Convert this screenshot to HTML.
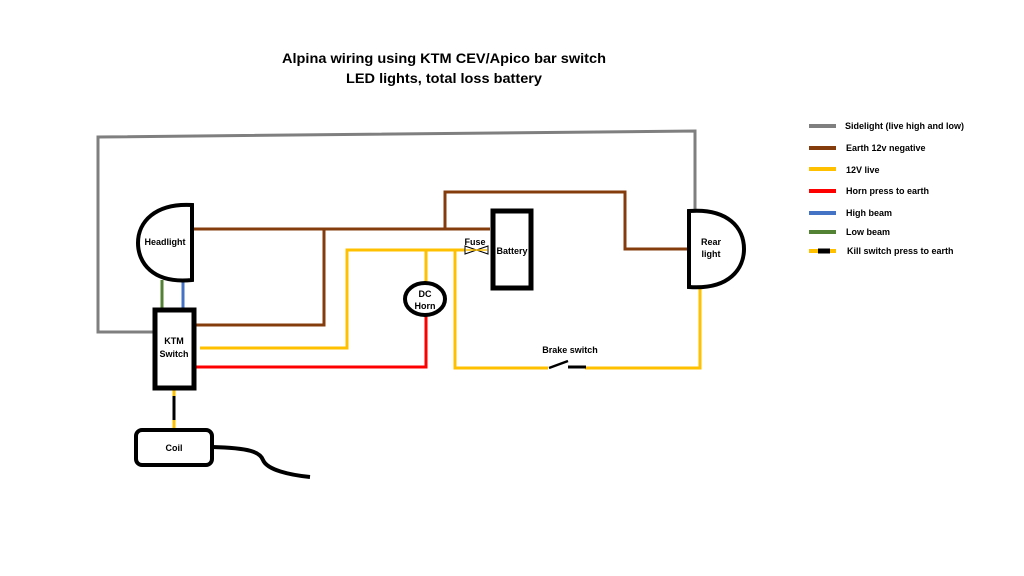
<!DOCTYPE html>
<html><head><meta charset="utf-8"><style>
html,body{margin:0;padding:0;background:#fff;}
svg{display:block;}
text{font-family:"Liberation Sans",sans-serif;font-weight:bold;fill:#000;}
</style></head><body>
<svg width="1024" height="576" viewBox="0 0 1024 576" xmlns="http://www.w3.org/2000/svg">
<rect width="1024" height="576" fill="#fff"/>
<text x="444" y="63" font-size="14" text-anchor="middle" textLength="324" lengthAdjust="spacingAndGlyphs">Alpina wiring using KTM CEV/Apico bar switch</text>
<text x="444" y="83" font-size="14" text-anchor="middle" textLength="196" lengthAdjust="spacingAndGlyphs">LED lights, total loss battery</text>
<g fill="none" stroke-width="3">
<polyline points="155,332 98,332 98,137 695,131 695,212" stroke="#7f7f7f"/>
<polyline points="192,229 490,229" stroke="#843c0c"/>
<polyline points="324,229 324,325 194,325" stroke="#843c0c"/>
<polyline points="445,229 445,192 625,192 625,249 688,249" stroke="#843c0c"/>
<line x1="162" y1="280" x2="162" y2="310" stroke="#548235"/>
<line x1="183" y1="280" x2="183" y2="310" stroke="#4472c4"/>
<polyline points="200,348 347,348 347,250 465,250" stroke="#ffc000"/>
<line x1="426" y1="250" x2="426" y2="284" stroke="#ffc000"/>
<polyline points="455,250 455,368 548,368" stroke="#ffc000"/>
<polyline points="585,368 700,368 700,288" stroke="#ffc000"/>
<polyline points="195,367 426,367 426,315" stroke="#ff0000"/>
<line x1="174" y1="388" x2="174" y2="430" stroke="#ffc000"/>
<line x1="174" y1="396" x2="174" y2="420" stroke="#000"/>
</g>
<line x1="549" y1="368" x2="568" y2="361" stroke="#000" stroke-width="2.5"/>
<line x1="568" y1="367" x2="586" y2="367" stroke="#000" stroke-width="3"/>
<text x="570" y="353" font-size="9" text-anchor="middle">Brake switch</text>
<path d="M465,246 L488,254 L488,246 L465,254 Z" fill="none" stroke="#000" stroke-width="1"/>
<line x1="466" y1="250" x2="487" y2="250" stroke="#ffc000" stroke-width="1.5"/>
<text x="475" y="245" font-size="9" text-anchor="middle">Fuse</text>
<path d="M192,205 L192,280 C152,284 138,262 138,243 C138,222 155,203 192,205 Z" fill="#fff" stroke="#000" stroke-width="4"/>
<text x="165" y="245" font-size="9" text-anchor="middle">Headlight</text>
<rect x="155" y="310" width="39" height="78" fill="#fff" stroke="#000" stroke-width="5"/>
<text x="174" y="344" font-size="9" text-anchor="middle">KTM</text>
<text x="174" y="357" font-size="9" text-anchor="middle">Switch</text>
<ellipse cx="425" cy="299" rx="20" ry="16" fill="#fff" stroke="#000" stroke-width="4"/>
<text x="425" y="297" font-size="9" text-anchor="middle">DC</text>
<text x="425" y="309" font-size="9" text-anchor="middle">Horn</text>
<rect x="493" y="211" width="38" height="77" fill="none" stroke="#000" stroke-width="5"/>
<text x="512" y="254" font-size="9" text-anchor="middle">Battery</text>
<path d="M689,211 L689,287 C730,290 744,268 744,249 C744,228 728,208 689,211 Z" fill="#fff" stroke="#000" stroke-width="4"/>
<text x="711" y="245" font-size="9" text-anchor="middle">Rear</text>
<text x="711" y="257" font-size="9" text-anchor="middle">light</text>
<rect x="136" y="430" width="76" height="35" rx="6" fill="#fff" stroke="#000" stroke-width="4"/>
<text x="174" y="451" font-size="9" text-anchor="middle">Coil</text>
<path d="M212,447 C250,448 260,452 263,460 C267,470 290,475 310,477" fill="none" stroke="#000" stroke-width="4"/>
<g stroke-width="4">
<line x1="809" y1="126" x2="836" y2="126" stroke="#7f7f7f"/>
<line x1="809" y1="148" x2="836" y2="148" stroke="#843c0c"/>
<line x1="809" y1="169" x2="836" y2="169" stroke="#ffc000"/>
<line x1="809" y1="191" x2="836" y2="191" stroke="#ff0000"/>
<line x1="809" y1="213" x2="836" y2="213" stroke="#4472c4"/>
<line x1="809" y1="232" x2="836" y2="232" stroke="#548235"/>
<line x1="809" y1="251" x2="836" y2="251" stroke="#ffc000"/>
<line x1="818" y1="251" x2="830" y2="251" stroke="#000" stroke-width="5"/>
</g>
<g font-size="9">
<text x="845" y="129">Sidelight (live high and low)</text>
<text x="846" y="151">Earth 12v negative</text>
<text x="846" y="173">12V live</text>
<text x="846" y="194">Horn press to earth</text>
<text x="846" y="216">High beam</text>
<text x="846" y="235">Low beam</text>
<text x="847" y="254">Kill switch press to earth</text>
</g>
</svg>
</body></html>
